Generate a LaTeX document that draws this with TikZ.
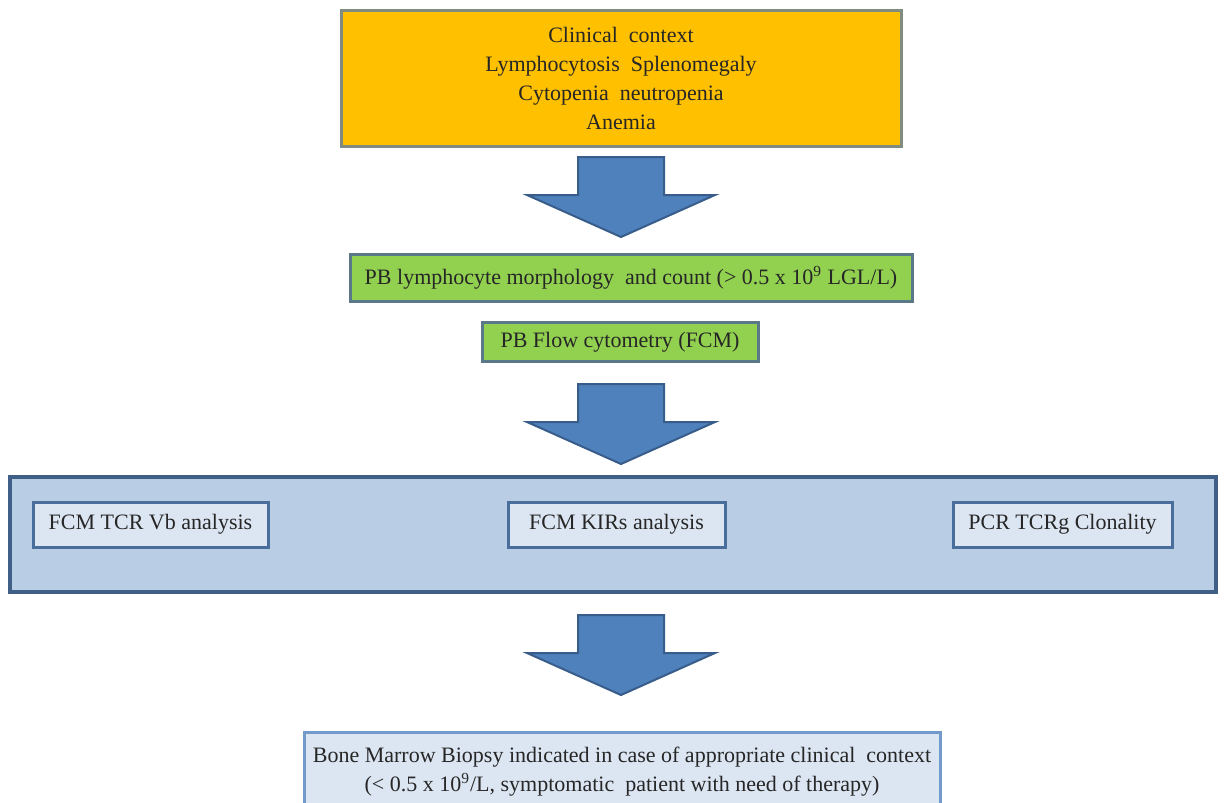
\documentclass[tikz,border=0pt]{standalone}
\usepackage{fontspec}
\setmainfont{Liberation Serif}
\usetikzlibrary{positioning}

% colours of the chart
\definecolor{ctxfill}{HTML}{FFC000}
\definecolor{ctxline}{HTML}{7F8C7F}
\definecolor{pbfill}{HTML}{92D050}
\definecolor{pbline}{HTML}{5A7888}
\definecolor{bandfill}{HTML}{B9CDE5}
\definecolor{bandline}{HTML}{3F5F86}
\definecolor{testfill}{HTML}{DCE6F2}
\definecolor{testline}{HTML}{4A6E9C}
\definecolor{arrfill}{HTML}{4F81BD}
\definecolor{arrline}{HTML}{385D8A}

\tikzset{
  box/.style={rectangle, align=center, inner sep=0pt,
    font=\fontsize{11}{14.5}\selectfont, text=black!85},
  ctxbox/.style={box, fill=ctxfill, draw=ctxline, line width=1.5pt},
  pbbox/.style={box, fill=pbfill, draw=pbline, line width=1.5pt},
  bandbox/.style={rectangle, fill=bandfill, draw=bandline, line width=2pt},
  testbox/.style={box, fill=testfill, draw=testline, line width=1.5pt,
    minimum height=22.5pt},
  biopsybox/.style={box, fill=testfill, draw=arrfill!80, line width=1.5pt},
  blockarr/.style={fill=arrfill, draw=arrline, line width=1pt, line join=miter}
}

% block arrow pointing down: centre x, shaft top y
\newcommand{\downarr}[2]{%
  \draw[blockarr] (#1-43,#2) -- (#1+43,#2) -- (#1+43,#2+38) -- (#1+94,#2+38)
    -- (#1,#2+80) -- (#1-94,#2+38) -- (#1-43,#2+38) -- cycle;}

\begin{document}
\begin{tikzpicture}[x=0.5pt, y=-0.5pt]

    % frame of the picture, in pixels of the reference
    \useasboundingbox (0,0) rectangle (1226,803);

    % clinical context at the top
    \node[ctxbox, minimum width=280pt, minimum height=68pt] (context) at (621,78)
      {Clinical\ \ context\\Lymphocytosis\ \ Splenomegaly\\Cytopenia\ \ neutropenia\\Anemia};

    % first arrow
    \downarr{621}{157}

    % peripheral blood work-up
    \node[pbbox, minimum width=281pt, minimum height=23.5pt] (morph) at (631,277.5)
      {PB lymphocyte morphology\ \ and count (> 0.5 x 10\textsuperscript{9} LGL/L)};
    \node[pbbox, minimum width=138pt, minimum height=19.5pt] (flow) at (620,342)
      {PB Flow cytometry (FCM)};

    % second arrow
    \downarr{621}{384}

    % band with the three clonality tests
    \node[bandbox, minimum width=603pt, minimum height=57.5pt] (band) at (613,534.5) {};
    \node[testbox, minimum width=117.5pt] (vb) at (150.5,524.5) {FCM TCR Vb analysis};
    \node[testbox, minimum width=108.5pt] (kir) at (616.5,524.5) {FCM KIRs analysis};
    \node[testbox, minimum width=109.5pt] (pcr) at (1062.5,524.5) {PCR TCRg Clonality};

    % third arrow
    \downarr{621}{615}

    % bone marrow biopsy at the bottom
    \node[biopsybox, minimum width=318pt, minimum height=40pt] (bmb) at (622,772)
      {Bone Marrow Biopsy indicated in case of appropriate clinical\ \ context\\
       (< 0.5 x 10\textsuperscript{9}/L, symptomatic\ \ patient with need of therapy)};

\end{tikzpicture}
\end{document}
